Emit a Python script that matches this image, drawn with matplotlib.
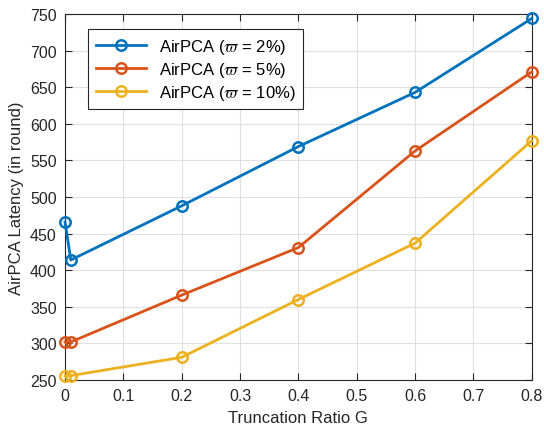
import numpy as np
import matplotlib
matplotlib.use("Agg")
import matplotlib.pyplot as plt

plt.rcParams['font.family'] = ['Liberation Sans', 'DejaVu Sans']
plt.rcParams['mathtext.fontset'] = 'cm'

ratio = [0, 0.01, 0.2, 0.4, 0.6, 0.8]
lat_2 = [466, 414, 488, 569, 643, 744]
lat_5 = [302, 302, 366, 431, 563, 671]
lat_10 = [256, 256, 281, 360, 437, 577]
labels = [r'AirPCA ($\varpi$ = 2%)', r'AirPCA ($\varpi$ = 5%)', r'AirPCA ($\varpi$ = 10%)']
colors = ['#0072BD', '#D95319', '#EDB120']

fig = plt.figure(figsize=(5.44, 4.31), dpi=100)
ax = fig.add_axes([0.1195, 0.116, 0.858, 0.849])

for ys, lab, c in zip([lat_2, lat_5, lat_10], labels, colors):
    ax.plot(ratio, ys, color=c, lw=2, marker='o', ms=7.5, mfc='none', mew=1.8, label=lab,
            clip_on=False, zorder=3)

ax.set_xlim(0, 0.8)
ax.set_ylim(250, 750)
ax.set_xticks(np.arange(0, 0.81, 0.1))
ax.set_xticklabels(['0', '0.1', '0.2', '0.3', '0.4', '0.5', '0.6', '0.7', '0.8'])
ax.set_yticks(np.arange(250, 751, 50))
ax.tick_params(direction='in', top=True, right=True, labelsize=11.5, colors='#262626',
               length=5, pad=6)
for s in ax.spines.values():
    s.set_color('#262626')
    s.set_linewidth(0.8)
ax.grid(True, color='#e0e0e0', lw=0.8)
ax.set_axisbelow(True)
ax.set_xlabel('Truncation Ratio G', fontsize=12, color='#262626', labelpad=5)
ax.set_ylabel('AirPCA Latency (in round)', fontsize=12, color='#262626', labelpad=4)

leg = ax.legend(loc='upper left', bbox_to_anchor=(0.05, 0.959), borderaxespad=0,
                fontsize=12, fancybox=False, edgecolor='#262626', framealpha=1,
                handlelength=3.0, borderpad=0.45, labelspacing=0.25)
leg.get_frame().set_linewidth(0.8)

fig.savefig('out.png', dpi=100)
